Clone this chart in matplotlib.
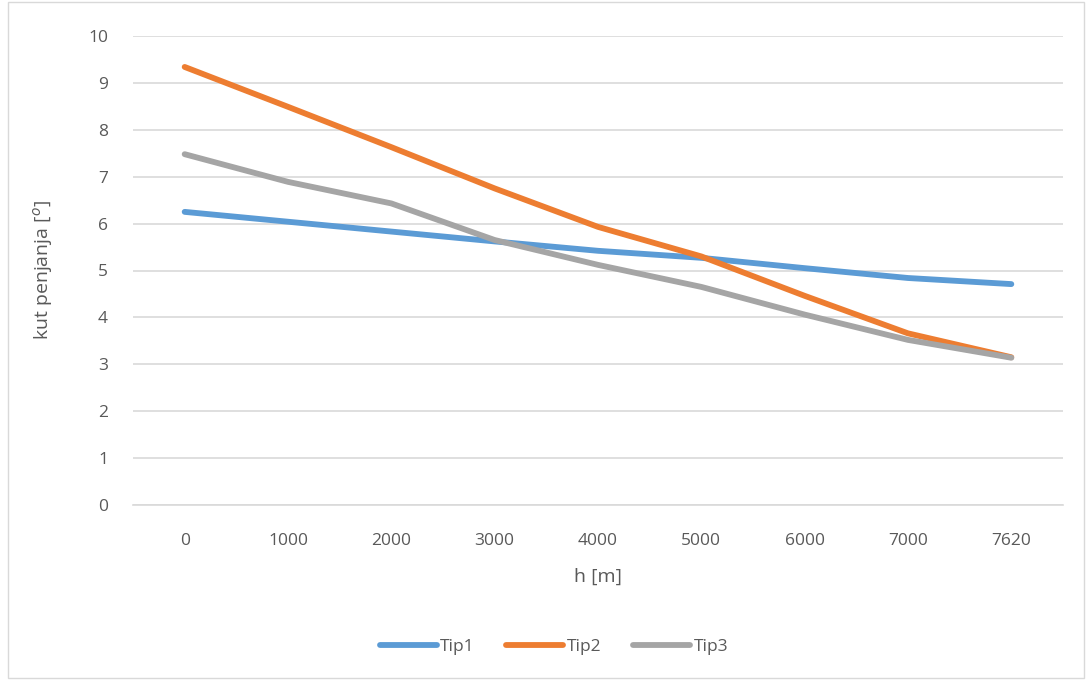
import matplotlib.pyplot as plt
from matplotlib.patches import Rectangle

# heights (categorical x axis, as in the spreadsheet chart)
heights = ["0", "1000", "2000", "3000", "4000", "5000", "6000", "7000", "7620"]
tip1 = [6.25, 6.04, 5.83, 5.62, 5.42, 5.27, 5.05, 4.84, 4.71]
tip2 = [9.34, 8.49, 7.63, 6.75, 5.93, 5.30, 4.46, 3.66, 3.15]
tip3 = [7.48, 6.89, 6.43, 5.65, 5.12, 4.65, 4.06, 3.52, 3.14]

series = [("Tip1", tip1, "#5b9bd5"), ("Tip2", tip2, "#ed7d31"), ("Tip3", tip3, "#a5a5a5")]

plt.rcParams["font.family"] = ["Open Sans", "DejaVu Sans"]
text_col = "#595959"

fig = plt.figure(figsize=(10.86, 6.8), dpi=100)
ax = fig.add_axes([133 / 1086, 1 - 505 / 680, 930 / 1086, 469 / 680])

xs = list(range(len(heights)))
for name, vals, col in series:
    ax.plot(xs, vals, color=col, lw=4.2, solid_capstyle="round", solid_joinstyle="round", label=name)

ax.set_xlim(-0.5, len(heights) - 0.5)
ax.set_ylim(0, 10)
ax.set_yticks(range(0, 11))
ax.set_xticks(xs)
ax.set_xticklabels(heights)
ax.grid(axis="y", color="#d9d9d9", lw=1.2)
ax.set_axisbelow(True)
for s in ["top", "right", "left"]:
    ax.spines[s].set_visible(False)
ax.spines["bottom"].set_color("#d9d9d9")
ax.spines["bottom"].set_linewidth(1.2)
ax.tick_params(length=0, labelsize=12.5, colors=text_col)
ax.tick_params(axis="y", pad=18)
ax.tick_params(axis="x", pad=20)

ax.set_xlabel("h [m]", fontsize=14, color=text_col, labelpad=14)
ax.set_ylabel("kut penjanja [$^o$]", fontsize=14, color=text_col, labelpad=24)

fig.legend(loc="center", bbox_to_anchor=(0.51, 1 - 647 / 680), ncol=3, frameon=False,
           fontsize=12.5, labelcolor=text_col, handlelength=3.3, handletextpad=0.2, columnspacing=1.8)

# outer chart border
fig.patches.append(Rectangle((8 / 1086, 2 / 680), 1076 / 1086, 676 / 680, transform=fig.transFigure,
                             fill=False, edgecolor="#d9d9d9", lw=1))

fig.savefig("out.png", dpi=100)
